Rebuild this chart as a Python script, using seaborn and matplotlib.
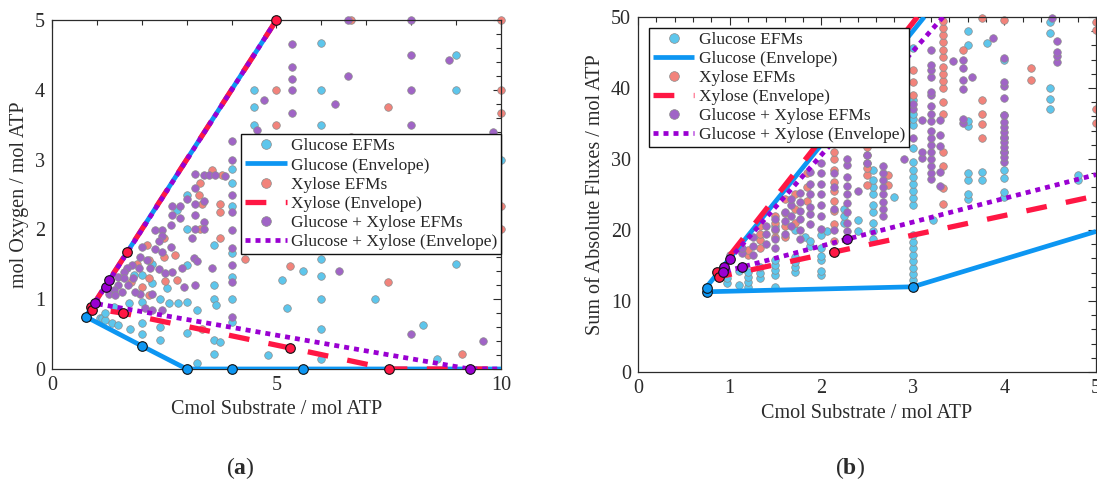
import matplotlib
matplotlib.use("Agg")
import matplotlib.pyplot as plt
from matplotlib.lines import Line2D
from matplotlib.ticker import MultipleLocator
import pandas as pd
import seaborn as sns

# ---------------- panel (a): oxygen demand vs. substrate ----------------
A_GLC_EFM = [
    (4.5, 4.0), (4.5, 3.75), (4.5, 3.5), (6.0, 4.67), (6.0, 4.0), (6.0, 3.5),
    (9.0, 4.5), (9.0, 4.0), (10.0, 3.0),
    (4.0, 2.87), (4.0, 2.66), (4.0, 2.33), (3.0, 2.49), (3.0, 2.0), (2.78, 2.28),
    (3.6, 1.78), (3.0, 1.49), (4.0, 1.66), (4.0, 1.32), (3.6, 1.2), (3.6, 1.0),
    (3.65, 0.92), (3.0, 0.96), (2.8, 0.94), (2.6, 0.94), (3.23, 0.85), (2.4, 1.0),
    (2.0, 0.96), (2.56, 1.16), (2.23, 1.23), (1.82, 1.35), (2.0, 1.35), (4.0, 1.0),
    (4.0, 0.67), (2.23, 1.51),
    (1.07, 0.73), (1.11, 0.73), (1.18, 0.7), (1.34, 0.66), (1.48, 0.63), (1.73, 0.57),
    (2.0, 0.66), (2.4, 0.6), (3.0, 0.51), (2.0, 0.5), (2.4, 0.41), (3.6, 0.41),
    (3.75, 0.38), (3.6, 0.21), (3.23, 0.08), (1.19, 0.8), (1.37, 0.89), (1.71, 0.94),
    (5.12, 1.27), (5.6, 1.4), (6.0, 1.57), (6.0, 1.33), (6.0, 1.0), (7.2, 1.0),
    (9.0, 1.5), (5.24, 0.88), (6.0, 0.57), (8.26, 0.63), (6.0, 0.15), (8.57, 0.15),
    (4.8, 0.2),
]
A_XYL_EFM = [
    (5.0, 4.0), (5.0, 3.5), (7.49, 3.75), (6.67, 5.0), (10.0, 5.0), (10.0, 4.0),
    (10.0, 3.67), (10.0, 2.33), (10.0, 2.0), (5.29, 1.48), (7.49, 1.25), (9.13, 0.22),
    (4.3, 1.57), (6.67, 3.33), (3.35, 0.57),
    (3.56, 2.85), (3.79, 2.78), (3.3, 2.66), (3.27, 2.49), (3.75, 2.37), (3.75, 2.25),
    (3.3, 2.0), (3.75, 1.87), (2.49, 1.87), (2.12, 1.78), (2.75, 1.63), (2.15, 1.56),
    (2.15, 1.3), (2.52, 1.26), (2.15, 1.06), (2.78, 1.28), (2.0, 1.18), (1.9, 1.5),
    (1.75, 1.25), (2.5, 1.6), (3.35, 2.37),
]
A_MIX_EFM = [
    (5.34, 4.66), (5.34, 4.33), (5.34, 4.16), (5.34, 4.0), (5.34, 3.66), (6.6, 5.0),
    (6.6, 4.2), (6.3, 3.8), (8.0, 5.0), (8.0, 4.5), (8.0, 4.0), (8.0, 3.5),
    (8.85, 4.43), (9.82, 3.39), (4.72, 3.85), (4.56, 3.42),
    (6.4, 1.4), (8.0, 0.5), (9.6, 0.4),
    (4.0, 3.26), (4.0, 2.99), (4.0, 2.49), (4.0, 2.25), (4.0, 1.99), (4.0, 1.73),
    (4.0, 1.49), (4.0, 1.25), (4.0, 0.75),
    (3.19, 2.79), (3.38, 2.78), (3.5, 2.78), (3.62, 2.78), (3.86, 2.77),
    (3.19, 2.59), (3.19, 2.37), (3.0, 2.44), (3.38, 2.4), (2.86, 2.16), (3.19, 2.2),
    (3.38, 2.1), (3.38, 2.0), (3.19, 2.0), (2.67, 2.33), (2.86, 2.33), (2.67, 2.2),
    (2.64, 2.06), (2.45, 1.99), (2.3, 1.99), (2.45, 1.9), (2.38, 1.84), (3.12, 1.87),
    (2.64, 1.75), (2.3, 1.72), (2.0, 1.75), (2.45, 1.68), (1.97, 1.61), (2.12, 1.56),
    (1.78, 1.49), (1.67, 1.44), (1.93, 1.44), (1.6, 1.39), (1.48, 1.32), (1.6, 1.3),
    (1.48, 1.2), (1.37, 1.13), (1.26, 1.08), (1.41, 1.06), (3.16, 1.59), (3.23, 1.54),
    (2.9, 1.44), (2.67, 1.39), (2.38, 1.43), (2.19, 1.44), (2.52, 1.38), (2.93, 1.18),
    (3.19, 1.2), (3.56, 1.44), (2.23, 1.08), (1.97, 1.08), (2.23, 0.85), (2.08, 0.87),
    (2.45, 0.85), (1.8, 1.3), (1.7, 1.2), (1.55, 1.1), (1.85, 1.1),
]
# envelope polylines and their vertices
A_GLC_ENV = [(5.0, 5.0), (0.75, 0.75), (2.0, 0.33), (3.0, 0.0), (10.0, 0.0)]
A_GLC_VTX = [(0.75, 0.75), (2.0, 0.33), (3.0, 0.0), (4.0, 0.0), (5.6, 0.0)]
A_XYL_ENV = [(5.0, 5.0), (0.87, 0.87), (1.58, 0.80), (5.31, 0.30), (7.5, 0.0), (10.0, 0.0)]
A_XYL_VTX = [(5.0, 5.0), (1.67, 1.67), (0.87, 0.89), (0.9, 0.85), (1.58, 0.80),
             (5.31, 0.30), (7.5, 0.0)]
A_MIX_ENV = [(5.0, 5.0), (0.95, 0.94), (9.3, 0.0), (10.0, 0.0)]
A_MIX_VTX = [(0.95, 0.94), (1.2, 1.18), (1.28, 1.28), (9.3, 0.0)]

# ---------------- panel (b): total flux vs. substrate ----------------
B_GLC_EFM = [
    (0.75, [11.3, 11.9]), (0.87, [13.7]), (0.97, [12.5, 13.2]), (1.1, [12.3, 14.2]),
    (1.2, [12.0, 12.7, 13.4, 14.1]), (1.33, [13.2, 13.9, 14.8]),
    (1.5, [12.0, 13.7, 14.4, 15.1, 15.8, 20.5]), (1.71, [14.1, 14.8, 15.5, 16.2, 20.0]),
    (1.82, [19.0]), (1.88, [17.7, 18.5]), (2.0, [13.6, 14.2, 15.8, 16.4, 17.4, 19.3]),
    (2.06, [19.9]), (2.25, [21.0, 22.0, 23.0]), (2.4, [19.8, 21.4]),
    (2.57, [18.8, 19.8, 21.0, 22.5, 23.5, 25.0, 26.0, 27.1, 28.4]), (2.8, [24.7]),
    (3.0, [12.9, 13.8, 14.7, 15.6, 16.5, 17.4, 18.3, 19.3, 23.5, 24.5, 25.5, 26.5,
           27.5, 28.5, 29.6, 31.5, 34.8, 35.7, 36.4, 38.3, 45.6]),
    (3.22, [21.4]), (3.6, [24.3, 25.0, 27.0, 28.0, 34.6, 35.3, 46.0, 48.0]),
    (3.75, [27.1, 28.2]), (3.81, [46.4]),
    (4.0, [24.7, 25.4, 27.3, 28.4, 31.0, 33.0, 36.2, 44.0]),
    (4.5, [37.1, 38.5, 40.0, 47.8, 49.3]), (4.8, [27.0, 27.7]),
]
B_XYL_EFM = [
    (1.2, [16.5, 17.2]), (1.33, [17.5, 18.6, 19.5, 20.5]), (1.5, [19.0, 20.0, 21.0, 22.0]),
    (1.6, [19.0, 20.6, 22.4, 24.3]), (1.71, [21.0, 23.0, 25.0]), (1.85, [24.1, 26.0, 28.0]),
    (2.14, [18.5, 20.8, 22.7, 24.1, 25.5, 26.8, 28.5, 30.0, 31.0]),
    (2.5, [26.3, 27.8, 28.8, 29.5, 30.5, 31.7]), (2.73, [26.3, 27.7]),
    (3.0, [39.0, 40.9, 42.5]),
    (3.33, [23.7, 25.9, 29.0, 31.0, 36.4, 38.0, 40.0, 41.0, 42.0, 43.0, 44.3, 45.4,
            46.5, 47.5, 48.5, 49.4]),
    (3.55, [45.4]), (3.75, [33.0, 34.9, 36.3, 38.3, 49.8]), (4.0, [49.6]),
    (4.29, [41.1, 42.8]), (5.0, [35.0, 37.1, 48.2, 49.3]),
]
B_MIX_EFM = [
    (0.93, [14.1, 14.8]), (1.0, [15.9, 16.5]), (1.14, [14.8, 16.8, 17.5]),
    (1.25, [16.5, 17.8, 19.0]), (1.4, [18.0, 19.5, 20.5]), (1.5, [17.5, 18.7, 20.2, 21.5]),
    (1.6, [19.5, 21.2, 22.5]), (1.67, [20.5, 22.0, 23.5, 24.3]),
    (1.77, [18.7, 20.0, 21.5, 22.7, 24.0, 25.2]),
    (1.88, [20.8, 22.2, 23.3, 25.0, 26.5, 28.2]),
    (2.0, [20.2, 22.0, 23.5, 25.0, 26.5, 28.0, 29.5]), (2.14, [20.0, 23.0, 26.0, 28.0]),
    (2.28, [19.8, 21.0, 22.5, 23.8, 25.0, 26.2, 27.5, 29.2, 30.0]), (2.4, [25.5]),
    (2.5, [29.5, 30.5]), (2.67, [22.0, 23.0, 24.0, 25.0, 26.0, 27.0, 28.0, 29.0]),
    (2.9, [30.0, 35.6]), (3.0, [33.0, 37.1, 37.8]), (3.1, [30.2, 31.0, 35.5]),
    (3.2, [27.2, 28.0, 29.0, 30.0, 31.0, 32.0, 33.0, 34.0, 35.3, 36.4, 37.5, 39.0,
           39.5, 41.5, 42.5, 43.3, 45.3]),
    (3.3, [26.2, 28.2, 31.8, 33.4, 35.5]), (3.44, [43.8]),
    (3.55, [35.0, 35.6, 39.9, 41.1, 42.8, 43.9]), (3.65, [41.6]), (3.88, [47.1]),
    (4.0, [29.6, 30.3, 31.0, 31.7, 32.4, 33.1, 33.8, 34.5, 35.2, 36.2, 38.6, 40.3,
           40.9, 44.2]),
    (4.52, [49.8]), (4.57, [43.7, 44.5, 45.0, 46.6]),
]
B_GLC_ENV = [(3.125, 50.0), (0.75, 12.0), (0.75, 11.3), (3.0, 12.0), (5.0, 19.8)]
B_GLC_VTX = [(0.75, 11.3), (0.75, 11.9), (3.0, 12.0)]
B_XYL_ENV = [(3.05, 50.0), (0.86, 14.1), (0.88, 13.4), (2.14, 16.9), (5.0, 24.8)]
B_XYL_VTX = [(0.86, 14.1), (0.88, 13.4), (2.14, 16.9)]
B_MIX_ENV = [(3.33, 50.0), (1.0, 15.9), (0.94, 14.8), (0.93, 14.1), (1.14, 14.8),
             (2.28, 18.7), (5.0, 27.8)]
B_MIX_VTX = [(1.0, 15.9), (0.94, 14.8), (0.93, 14.1), (1.14, 14.8), (2.28, 18.7)]

LABELS = ["Glucose EFMs", "Glucose (Envelope)", "Xylose EFMs", "Xylose (Envelope)",
          "Glucose + Xylose EFMs", "Glucose + Xylose (Envelope)"]

# ---------------- styling ----------------
C_GLC_PT, C_GLC_LN = "#5DC6EC", "#0D96F2"
C_XYL_PT, C_XYL_LN = "#F2837B", "#FF1744"
C_MIX_PT, C_MIX_LN = "#A064C6", "#9A00D2"
INK = "#2b2b2b"
DASH_XYL = (15.0, 14.0)
DASH_MIX = (3.6, 3.6)

sns.set_theme(style="white")
plt.rcParams["font.family"] = ["Liberation Serif", "DejaVu Serif"]
plt.rcParams["mathtext.fontset"] = "custom"
plt.rcParams["mathtext.rm"] = "Liberation Serif"
plt.rcParams["mathtext.bf"] = "Liberation Serif:bold"
plt.rcParams["lines.scale_dashes"] = False


def pairs_df(pairs):
    return pd.DataFrame(pairs, columns=["x", "y"])


def cols_df(cols):
    return pd.DataFrame([(x, y) for x, ys in cols for y in ys], columns=["x", "y"])


def efms(ax, df, color, z):
    sns.scatterplot(data=df, x="x", y="y", ax=ax, color=color, s=30,
                    edgecolor="#8d8d8d", linewidth=0.5, clip_on=False,
                    zorder=z, legend=False)


def envelope(ax, pts, color, lw, dashes=None):
    df = pairs_df(pts)
    sns.lineplot(data=df, x="x", y="y", ax=ax, sort=False, estimator=None,
                 color=color, lw=lw, zorder=3, legend=False)
    line = ax.lines[-1]
    if dashes is not None:
        line.set_dashes(dashes)
    line.set_dash_capstyle("butt")
    line.set_solid_capstyle("butt")


def vertices(ax, pts, color):
    sns.scatterplot(data=pairs_df(pts), x="x", y="y", ax=ax, color=color, s=48,
                    edgecolor="#111111", linewidth=0.8, clip_on=False,
                    zorder=4, legend=False)


def style_axes(ax, xlim, ylim, xmaj, xmin, ymaj, ymin, xlabel, ylabel):
    ax.set_xlim(*xlim)
    ax.set_ylim(*ylim)
    ax.xaxis.set_major_locator(MultipleLocator(xmaj))
    ax.xaxis.set_minor_locator(MultipleLocator(xmin))
    ax.yaxis.set_major_locator(MultipleLocator(ymaj))
    ax.yaxis.set_minor_locator(MultipleLocator(ymin))
    ax.tick_params(which="both", direction="in", top=True, right=True,
                   color=INK, width=0.8, labelsize=14.5, labelcolor=INK, pad=5)
    ax.tick_params(which="major", length=6)
    ax.tick_params(which="minor", length=3.5)
    for sp in ax.spines.values():
        sp.set_color(INK)
        sp.set_linewidth(0.9)
    ax.set_xlabel(xlabel, fontsize=14.5, color=INK)
    ax.set_ylabel(ylabel, fontsize=14.5, color=INK)


def legend(ax, anchor):
    handles = [
        Line2D([], [], ls="none", marker="o", ms=7, mfc=C_GLC_PT, mec="#8d8d8d", mew=0.5),
        Line2D([], [], color=C_GLC_LN, lw=3.4, solid_capstyle="butt"),
        Line2D([], [], ls="none", marker="o", ms=7, mfc=C_XYL_PT, mec="#8d8d8d", mew=0.5),
        Line2D([], [], color=C_XYL_LN, lw=3.8, dashes=DASH_XYL, dash_capstyle="butt"),
        Line2D([], [], ls="none", marker="o", ms=7, mfc=C_MIX_PT, mec="#8d8d8d", mew=0.5),
        Line2D([], [], color=C_MIX_LN, lw=3.4, dashes=DASH_MIX, dash_capstyle="butt"),
    ]
    leg = ax.legend(handles, LABELS, loc="upper left", bbox_to_anchor=anchor,
                    borderaxespad=0, fontsize=12.5, frameon=True, fancybox=False,
                    framealpha=1, edgecolor="#111111", handlelength=2.4,
                    handletextpad=0.25, labelspacing=0.17, borderpad=0.22)
    leg.get_frame().set_linewidth(1.0)
    leg.set_zorder(10)


fig = plt.figure(figsize=(10.97, 4.88), dpi=100)
ax_a = fig.add_axes([0.0474, 0.2439, 0.4093, 0.7152])
ax_b = fig.add_axes([0.5816, 0.2377, 0.4175, 0.7275])

# panel (a)
efms(ax_a, pairs_df(A_GLC_EFM), C_GLC_PT, 2.0)
efms(ax_a, pairs_df(A_XYL_EFM), C_XYL_PT, 2.1)
efms(ax_a, pairs_df(A_MIX_EFM), C_MIX_PT, 2.2)
envelope(ax_a, A_GLC_ENV, C_GLC_LN, 3.4)
envelope(ax_a, A_XYL_ENV, C_XYL_LN, 3.8, DASH_XYL)
envelope(ax_a, A_MIX_ENV, C_MIX_LN, 3.4, DASH_MIX)
vertices(ax_a, A_GLC_VTX, C_GLC_LN)
vertices(ax_a, A_XYL_VTX, C_XYL_LN)
vertices(ax_a, A_MIX_VTX, C_MIX_LN)
style_axes(ax_a, (0, 10), (0, 5), 5, 1, 1, 0.2,
           "Cmol Substrate / mol ATP", "mol Oxygen / mol ATP")
legend(ax_a, (0.421, 0.672))

# panel (b)
efms(ax_b, cols_df(B_GLC_EFM), C_GLC_PT, 2.0)
efms(ax_b, cols_df(B_XYL_EFM), C_XYL_PT, 2.1)
efms(ax_b, cols_df(B_MIX_EFM), C_MIX_PT, 2.2)
envelope(ax_b, B_GLC_ENV, C_GLC_LN, 3.4)
envelope(ax_b, B_XYL_ENV, C_XYL_LN, 3.8, DASH_XYL)
envelope(ax_b, B_MIX_ENV, C_MIX_LN, 3.4, DASH_MIX)
vertices(ax_b, B_GLC_VTX, C_GLC_LN)
vertices(ax_b, B_XYL_VTX, C_XYL_LN)
vertices(ax_b, B_MIX_VTX, C_MIX_LN)
style_axes(ax_b, (0, 5), (0, 50), 1, 0.2, 10, 2,
           "Cmol Substrate / mol ATP", "Sum of Absolute Fluxes / mol ATP")
legend(ax_b, (0.024, 0.969))

fig.text(0.219, 0.041, r"($\mathbf{a}$)", ha="center", va="center", fontsize=17, color=INK)
fig.text(0.775, 0.041, r"($\mathbf{b}$)", ha="center", va="center", fontsize=17, color=INK)

fig.savefig("out.png", dpi=100, facecolor="white")
